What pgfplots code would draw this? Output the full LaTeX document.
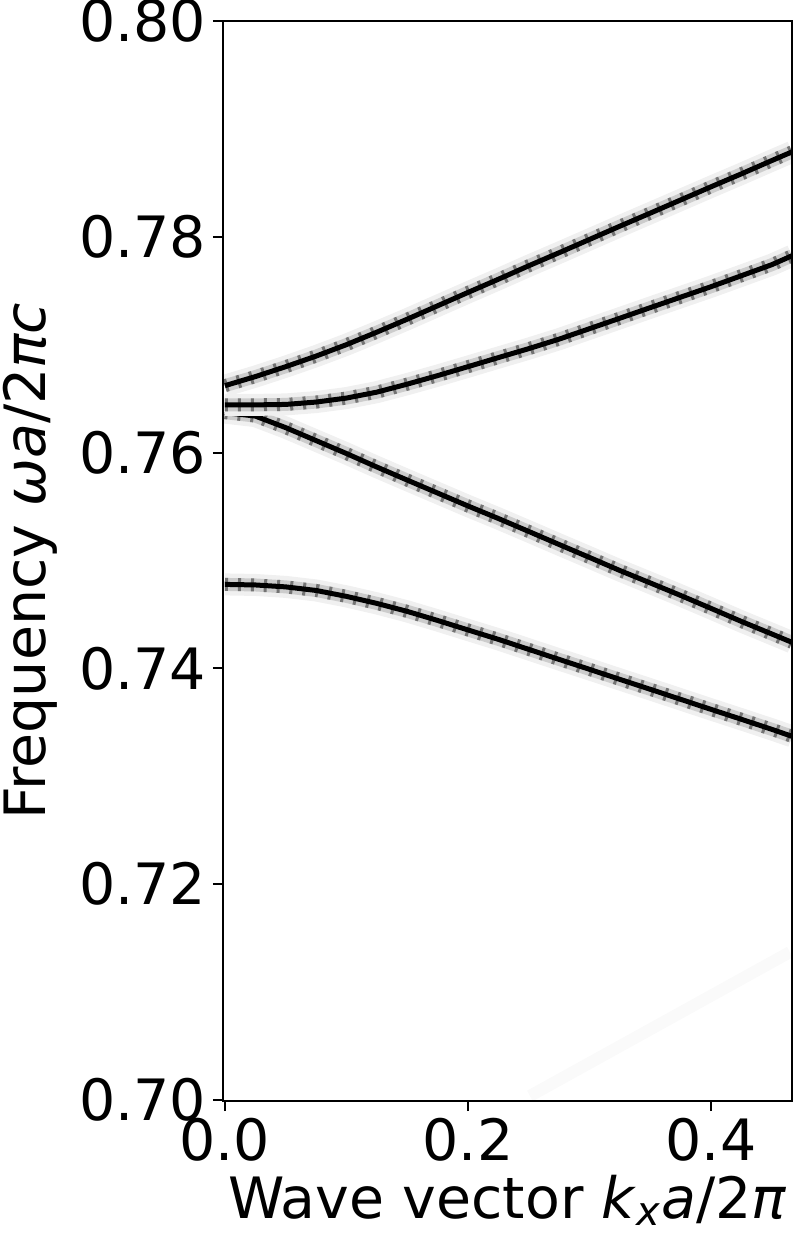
\documentclass[border=0pt]{standalone}
\usepackage{fontspec}
\setmainfont{DejaVu Sans}[ItalicFont={DejaVu Sans Oblique}]
\usepackage{pgfplots}
\usepackage{pgfplotstable}
\pgfplotsset{compat=1.18}

\pgfplotstableread{
kx     b1      b2      b3      b4
0.000  0.76620 0.76442 0.76370 0.74778
0.025  0.76704 0.76442 0.76338 0.74773
0.050  0.76796 0.76446 0.76231 0.74755
0.075  0.76894 0.76468 0.76111 0.74722
0.100  0.77000 0.76505 0.75991 0.74667
0.125  0.77116 0.76560 0.75866 0.74602
0.150  0.77236 0.76634 0.75745 0.74528
0.175  0.77360 0.76713 0.75625 0.74444
0.200  0.77484 0.76796 0.75505 0.74356
0.225  0.77606 0.76880 0.75389 0.74269
0.250  0.77731 0.76963 0.75269 0.74176
0.275  0.77852 0.77051 0.75148 0.74083
0.300  0.77975 0.77148 0.75028 0.73991
0.325  0.78098 0.77245 0.74907 0.73898
0.350  0.78219 0.77343 0.74792 0.73806
0.375  0.78341 0.77440 0.74676 0.73713
0.400  0.78463 0.77537 0.74556 0.73620
0.425  0.78583 0.77639 0.74435 0.73528
0.450  0.78706 0.77741 0.74319 0.73435
0.4667 0.78787 0.77824 0.74241 0.73370
}\bands

\newcommand\band[1]{%
  \addplot[black!6, line width=11pt, line join=round] table[x=kx,y=#1]{\bands};
  \addplot[black!20, line width=6.5pt, line join=round] table[x=kx,y=#1]{\bands};
  \addplot[black!55, line width=6.5pt, dash pattern=on 1.5pt off 5pt] table[x=kx,y=#1]{\bands};
  \addplot[black, line width=2.5pt, line join=round] table[x=kx,y=#1]{\bands};
}

\begin{document}
\begin{tikzpicture}
\begin{axis}[name=ax,
  scale only axis, width=284.5pt, height=540pt,
  xmin=-0.0016, xmax=0.4667, ymin=0.6999, ymax=0.8,
  xtick={0,0.2,0.4}, ytick={0.70,0.72,0.74,0.76,0.78,0.80},
  xtick pos=bottom, ytick pos=left,
  scaled ticks=false,
  tick align=outside, major tick length=5pt,
  tick style={line width=1pt, black},
  axis line style={line width=1pt, black},
  axis on top,
  /pgf/number format/assume math mode=true,
  xticklabel style={/pgf/number format/fixed, /pgf/number format/fixed zerofill, /pgf/number format/precision=1},
  yticklabel style={/pgf/number format/fixed, /pgf/number format/fixed zerofill, /pgf/number format/precision=2},
  ticklabel style={font=\fontsize{28.5}{34}\selectfont},
  label style={font=\fontsize{28.5}{34}\selectfont},
  xlabel={Wave vector \textit{k}\textsubscript{\textit{x}}\textit{a}/2\textit{π}},
  ylabel={Frequency \textit{ωa}/2\textit{πc}},
  ylabel shift=4pt,
  clip=true,
]
\addplot[black!2, line width=6pt] coordinates {(0.251,0.70037) (0.465,0.71370)};
\band{b4}
\band{b3}
\band{b2}
\band{b1}
\end{axis}
\pgfresetboundingbox
\path[use as bounding box] ([xshift=-111.5pt,yshift=-73pt]ax.south west) rectangle ([xshift=2.5pt,yshift=10.5pt]ax.north east);
\end{tikzpicture}
\end{document}
